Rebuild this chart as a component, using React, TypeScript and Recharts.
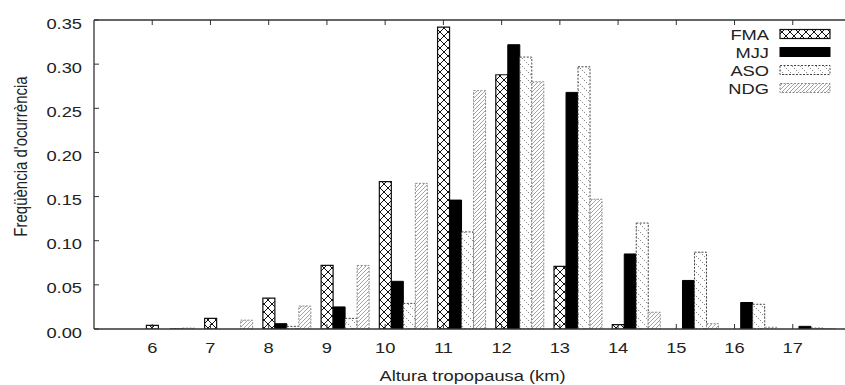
import React from 'react';
import { BarChart, Bar, XAxis, YAxis, ReferenceLine, Legend } from 'recharts';

// ---- data ----
const CATEGORIES = [6, 7, 8, 9, 10, 11, 12, 13, 14, 15, 16, 17];
const FMA = [0.004, 0.012, 0.035, 0.072, 0.167, 0.342, 0.288, 0.071, 0.005, 0, 0, 0];
const MJJ = [0, 0, 0.006, 0.025, 0.054, 0.146, 0.322, 0.268, 0.085, 0.055, 0.03, 0.003];
const ASO = [0.0005, 0, 0.003, 0.012, 0.029, 0.11, 0.308, 0.297, 0.12, 0.087, 0.028, 0.001];
const NDG = [0.001, 0.01, 0.026, 0.072, 0.165, 0.27, 0.28, 0.147, 0.019, 0.006, 0.002, 0.0005];
const Y_TICKS = [0, 0.05, 0.1, 0.15, 0.2, 0.25, 0.3, 0.35];
const SERIES_NAMES = ['FMA', 'MJJ', 'ASO', 'NDG'];
const X_LABEL = 'Altura tropopausa (km)';
const Y_LABEL = "Freqüència d'ocurrència";

const data = CATEGORIES.map((k, i) => ({ k, FMA: FMA[i], MJJ: MJJ[i], ASO: ASO[i], NDG: NDG[i] }));

// ---- layout / style ----
const CHART_W = 870;
const CHART_H = 385;
const PLOT_LEFT = 94;
const PLOT_TOP = 20;
const PLOT_BOTTOM = 329;
const PLOT_RIGHT = 851;
const UNIT = (PLOT_RIGHT - PLOT_LEFT) / 13;
const SX = 1.22;
const FONT = '"Liberation Sans", Arial, Helvetica, sans-serif';
const TEXT = '#222';
const AXIS = '#333';

const STYLES: Record<string, any> = {
  FMA: { fill: 'url(#pFMA)', stroke: '#111', strokeWidth: 1.2 },
  MJJ: { fill: '#000', stroke: '#000', strokeWidth: 1 },
  ASO: { fill: 'url(#pASO)', stroke: '#444', strokeWidth: 1, strokeDasharray: '2 1.5' },
  NDG: { fill: 'url(#pNDG)', stroke: '#888', strokeWidth: 1, strokeDasharray: '2 1.5' },
};

const XTick = (props: any) => {
  const { x, payload } = props;
  const tx = x - 0.3 * UNIT;
  return (
    <g>
      <line x1={tx} x2={tx} y1={PLOT_BOTTOM} y2={PLOT_BOTTOM - 5} stroke={AXIS} />
      <line x1={tx} x2={tx} y1={PLOT_TOP} y2={PLOT_TOP + 5} stroke={AXIS} />
      <text
        transform={`translate(${tx},${PLOT_BOTTOM + 24}) scale(${SX},1)`}
        textAnchor="middle"
        fontSize={15}
        fontFamily={FONT}
        fill={TEXT}
      >
        {payload.value}
      </text>
    </g>
  );
};

const YTick = (props: any) => {
  const { y, payload } = props;
  return (
    <g>
      <line x1={PLOT_LEFT} x2={PLOT_LEFT + 5} y1={y} y2={y} stroke={AXIS} />
      <text
        transform={`translate(${PLOT_LEFT - 12},${y + 8.5}) scale(${SX},1)`}
        textAnchor="end"
        fontSize={15}
        fontFamily={FONT}
        fill={TEXT}
      >
        {Number(payload.value).toFixed(2)}
      </text>
    </g>
  );
};

const XLabel = (props: any) => {
  const vb = props.viewBox || {};
  const cx = vb.x + vb.width / 2;
  return (
    <text
      transform={`translate(${cx},${PLOT_BOTTOM + 51.5}) scale(${SX},1)`}
      textAnchor="middle"
      fontSize={15}
      fontFamily={FONT}
      fill={TEXT}
    >
      {X_LABEL}
    </text>
  );
};

const YLabel = (props: any) => {
  const vb = props.viewBox || {};
  const cx = vb.x + 21;
  const cy = vb.y + vb.height / 2 - 18;
  return (
    <text
      transform={`translate(${cx},${cy}) rotate(-90) scale(1,${SX})`}
      textAnchor="middle"
      dominantBaseline="central"
      fontSize={15}
      fontFamily={FONT}
      fill={TEXT}
    >
      {Y_LABEL}
    </text>
  );
};

const LegendContent = () => (
  <svg width={150} height={90} style={{ display: 'block', overflow: 'visible' }}>
    {SERIES_NAMES.map((name, i) => {
      const cy = 14 + i * 18;
      const st = STYLES[name];
      return (
        <g key={name}>
          <text
            transform={`translate(79,${cy + 5.5}) scale(${SX},1)`}
            textAnchor="end"
            fontSize={15}
            fontFamily={FONT}
            fill={TEXT}
          >
            {name}
          </text>
          <rect x={90} y={cy - 4.5} width={50} height={9} {...st} />
        </g>
      );
    })}
  </svg>
);

export default function App() {
  return (
    <div
      style={{
        position: 'absolute',
        left: 0,
        top: 0,
        width: 845,
        height: 385,
        overflow: 'hidden',
        background: '#fff',
      }}
    >
      <BarChart
        width={CHART_W}
        height={CHART_H}
        data={data}
        margin={{ top: PLOT_TOP, right: CHART_W - PLOT_RIGHT, left: 0, bottom: 0 }}
        barCategoryGap="10%"
        barGap={0}
      >
        <defs>
          <pattern id="pFMA" patternUnits="userSpaceOnUse" width={8} height={8}>
            <rect width={8} height={8} fill="#fff" />
            <path d="M0,0 L8,8 M8,0 L0,8" stroke="#111" strokeWidth={1} />
          </pattern>
          <pattern id="pASO" patternUnits="userSpaceOnUse" width={8} height={8}>
            <rect width={8} height={8} fill="#fff" />
            <path d="M0,0 L8,8" stroke="#555" strokeWidth={1} strokeDasharray="1 1.8" />
          </pattern>
          <pattern id="pNDG" patternUnits="userSpaceOnUse" width={4} height={4}>
            <rect width={4} height={4} fill="#fff" />
            <path d="M0,4 L4,0 M-1,1 L1,-1 M3,5 L5,3" stroke="#999" strokeWidth={0.9} />
          </pattern>
        </defs>
        <XAxis
          dataKey="k"
          type="category"
          interval={0}
          height={CHART_H - PLOT_BOTTOM}
          padding={{ left: 0.8 * UNIT, right: 0.2 * UNIT }}
          tickLine={false}
          axisLine={{ stroke: AXIS, strokeWidth: 1.3 }}
          tick={<XTick />}
          label={<XLabel />}
        />
        <YAxis
          type="number"
          domain={[0, 0.35]}
          ticks={Y_TICKS}
          interval={0}
          allowDataOverflow
          width={PLOT_LEFT}
          tickLine={false}
          axisLine={{ stroke: AXIS, strokeWidth: 1.3 }}
          tick={<YTick />}
          label={<YLabel />}
        />
        <ReferenceLine y={0.35} stroke={AXIS} strokeWidth={1.3} />
        {SERIES_NAMES.map((name) => (
          <Bar key={name} dataKey={name} name={name} {...STYLES[name]} isAnimationActive={false} />
        ))}
        <Legend
          layout="vertical"
          align="center"
          verticalAlign="middle"
          content={<LegendContent />}
          wrapperStyle={{ position: 'absolute', left: 690, top: 20, width: 150, height: 90 }}
        />
      </BarChart>
    </div>
  );
}
